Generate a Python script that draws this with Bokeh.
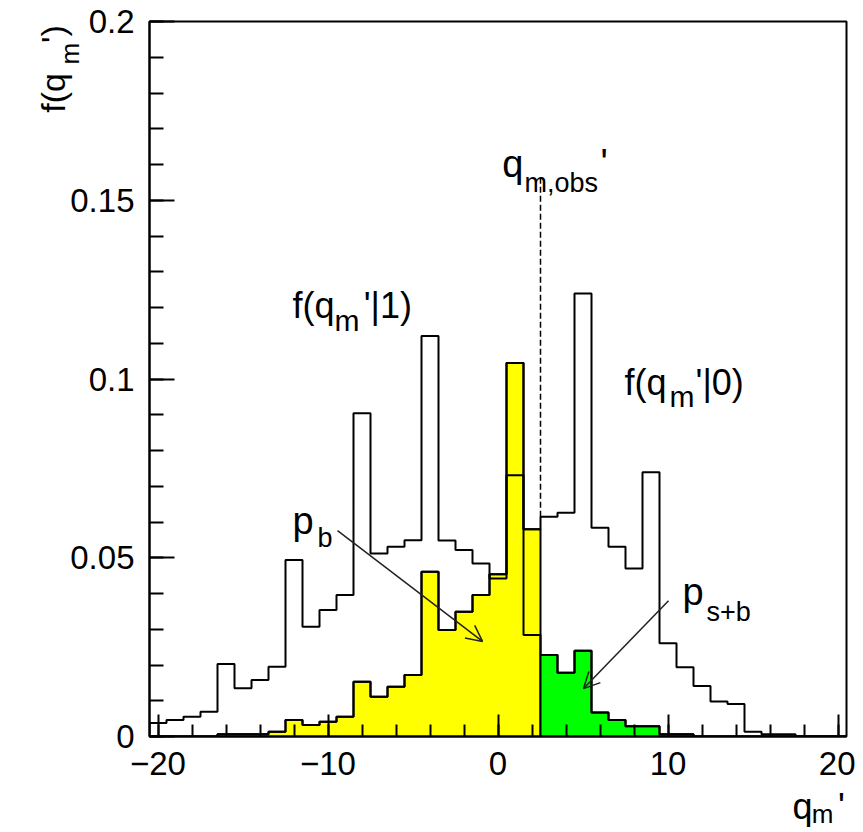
import math
from bokeh.plotting import figure
from bokeh.models import Range1d, FixedTicker, Label, Arrow, OpenHead
from bokeh.core.properties import value
from bokeh.embed import file_html
from bokeh.resources import INLINE

# ---------------- data ----------------
bin_centers = list(range(-20, 21))
bin_width = 1.0

# f(q_m'|1)  (signal+background hypothesis)
f1 = [0.0038, 0.0046, 0.0055, 0.0069, 0.0203, 0.0135, 0.0158, 0.0195, 0.0494, 0.0307,
      0.0354, 0.0396, 0.0904, 0.0512, 0.0531, 0.0549, 0.1120, 0.0548, 0.0522, 0.0484,
      0.0442, 0.0731, 0.0284, 0.0228, 0.0178, 0.0240, 0.0067, 0.0046, 0.0029, 0.0029,
      0.0006, 0.0006, 0.0, 0.0, 0.0, 0.0, 0.0, 0.0, 0.0, 0.0, 0.0]

# f(q_m'|0)  (background-only hypothesis)
f0 = [0.0, 0.0, 0.0, 0.0, 0.0006, 0.0006, 0.0006, 0.0013, 0.0046, 0.0032,
      0.0041, 0.0055, 0.0153, 0.0111, 0.0139, 0.0172, 0.0461, 0.0298, 0.0349, 0.0396,
      0.0454, 0.1045, 0.0580, 0.0615, 0.0626, 0.1239, 0.0584, 0.0531, 0.0470, 0.0739,
      0.0261, 0.0194, 0.0141, 0.0098, 0.0091, 0.0013, 0.0006, 0.0006, 0.0, 0.0, 0.0]

q_obs = 2.5
q_obs_line_top = 0.157

x_ticks = [-20, -10, 0, 10, 20]
x_minor = list(range(-20, 21, 2))
y_ticks = [0, 0.05, 0.1, 0.15, 0.2]
y_tick_labels = ["0", "0.05", "0.1", "0.15", "0.2"]
y_minor = [round(i * 0.01, 2) for i in range(21)]

FONT = "Liberation Sans"

# ---------------- helpers ----------------
def edges_of(i):
    return bin_centers[i] - bin_width / 2, bin_centers[i] + bin_width / 2


def step_outline(vals, idx):
    xs, ys = [], []
    lo0, _ = edges_of(idx[0])
    xs.append(lo0); ys.append(0.0)
    for i in idx:
        lo, hi = edges_of(i)
        xs += [lo, hi]
        ys += [vals[i], vals[i]]
    _, hiN = edges_of(idx[-1])
    xs.append(hiN); ys.append(0.0)
    return xs, ys


# ---------------- figure ----------------
p = figure(width=855, height=832, output_backend="svg", toolbar_location=None,
           x_range=Range1d(-20.5, 20.5), y_range=Range1d(0, 0.2),
           min_border_left=149, min_border_right=9, min_border_top=21,
           min_border_bottom=96)
p.grid.visible = False
p.outline_line_color = "black"
p.outline_line_width = 2
p.background_fill_color = "white"
p.border_fill_color = "white"

all_idx = list(range(len(bin_centers)))

# filled tails
yel_idx = [i for i in all_idx if edges_of(i)[1] <= q_obs]
grn_idx = [i for i in all_idx if edges_of(i)[0] >= q_obs]
yx, yy = step_outline(f0, yel_idx)
gx, gy = step_outline(f1, grn_idx)
p.patch(yx, yy, fill_color="#FFFF00", line_color="black", line_width=2)
p.patch(gx, gy, fill_color="#00FF00", line_color="black", line_width=2)

# outlines
for vals in (f1, f0):
    xs, ys = step_outline(vals, all_idx)
    p.line(xs, ys, line_color="black", line_width=2)

# observed value line
i_right = grn_idx[0]
i_left = i_right - 1
p.segment(x0=[q_obs], y0=[max(f0[i_left], f0[i_right])], x1=[q_obs], y1=[q_obs_line_top],
          line_color="black", line_width=1.5, line_dash="6 3")

# axes
for ax in (p.xaxis[0], p.yaxis[0]):
    ax.axis_line_width = 2
    ax.major_tick_line_width = 2
    ax.minor_tick_line_width = 2
    ax.major_tick_out = 0
    ax.minor_tick_out = 0
    ax.major_label_text_font = FONT
    ax.major_label_text_font_size = "33px"
    ax.major_label_text_color = "black"

p.xaxis.ticker = FixedTicker(ticks=x_ticks, minor_ticks=x_minor)
p.xaxis.major_tick_in = 22
p.xaxis.minor_tick_in = 12
p.xaxis.major_label_standoff = 15

p.yaxis.ticker = FixedTicker(ticks=y_ticks, minor_ticks=y_minor)
p.yaxis.major_tick_in = 25
p.yaxis.minor_tick_in = 14
p.yaxis.major_label_standoff = 15
p.yaxis.major_label_overrides = {t: s for t, s in zip(y_ticks, y_tick_labels)}


def lab(x, y, text, size, angle=0.0):
    p.add_layout(Label(x=x, y=y, text=text, text_font=FONT,
                       text_font_size=f"{size}px", text_color="black",
                       text_align="left", text_baseline="alphabetic", angle=angle))


def outside_text(x, y, text, size, angle=0.0):
    # glyph text on the overlay level so it is not clipped to the frame
    p.text(x=[x], y=[y], text=[text], angle=angle, text_font=value(FONT),
           text_font_size=value(f"{size}px"), text_color="black",
           text_align="left", text_baseline="alphabetic", level="overlay")


# annotations (data coordinates)
lab(-12.09, 0.1206, "f(q", 36)
lab(-9.62, 0.1164, "m", 30)
lab(-7.90, 0.1206, "'|1)", 36)

lab(7.44, 0.0991, "f(q", 36)
lab(10.09, 0.0951, "m", 30)
lab(11.62, 0.0991, "'|0)", 36)

lab(-12.09, 0.0604, "p", 38)
lab(-10.62, 0.0554, "b", 27)

lab(10.85, 0.0404, "p", 38)
lab(12.26, 0.0348, "s+b", 27)

lab(0.25, 0.1602, "q", 38)
lab(1.56, 0.1548, "m,obs", 27)
lab(6.03, 0.1603, "'", 38)

# axis titles
outside_text(17.32, -0.0196, "q", 36)
outside_text(18.45, -0.0218, "m", 26)
outside_text(20.00, -0.0196, "'", 36)

outside_text(-26.15, 0.1745, "f(q", 34, angle=math.pi / 2)
outside_text(-25.15, 0.1880, "m", 26, angle=math.pi / 2)
outside_text(-26.15, 0.1940, "')", 34, angle=math.pi / 2)

# arrows
p.add_layout(Arrow(end=OpenHead(size=16, line_width=1.5, line_color="#222222"),
                   x_start=-9.44, y_start=0.0576, x_end=-0.91, y_end=0.0266,
                   line_width=1.5, line_color="#222222"))
p.add_layout(Arrow(end=OpenHead(size=16, line_width=1.5, line_color="#222222"),
                   x_start=10.03, y_start=0.0380, x_end=5.03, y_end=0.0134,
                   line_width=1.5, line_color="#222222"))

open("out.html", "w").write(file_html(p, INLINE))
